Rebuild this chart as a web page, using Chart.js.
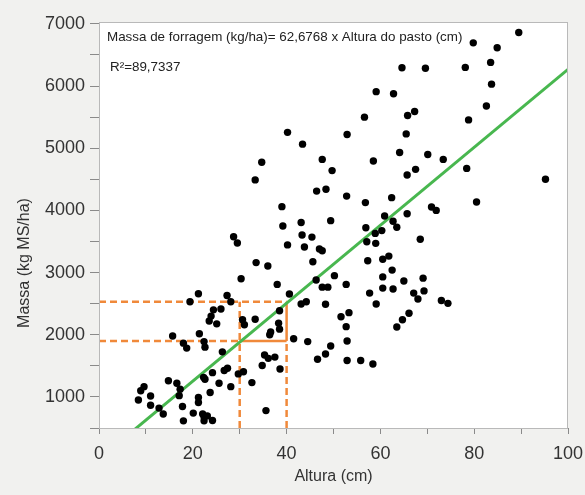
<!DOCTYPE html>
<html>
<head>
<meta charset="utf-8">
<script src="https://cdn.jsdelivr.net/npm/chart.js@4.4.1/dist/chart.umd.min.js"></script>
<style>
  html, body { margin: 0; padding: 0; background: #f1f1ef; }
  #wrap { width: 585px; height: 495px; position: relative; }
</style>
</head>
<body>
<div id="wrap"><canvas id="chart"></canvas></div>
<script>
// Altura do pasto (cm) x Massa de forragem (kg MS/ha)
const alturaCm = [
  30.3, 21.2, 19.4, 27.3, 28.1, 24.4, 26.0, 23.9, 23.5, 25.1, 30.6, 31.0,
  15.7, 21.4, 18.0, 18.7, 22.4, 22.6, 26.3, 27.4, 26.7, 24.2, 29.7, 30.8,
  32.6, 14.8, 16.6, 9.6, 8.9, 22.3, 22.6, 25.6, 28.1, 17.3, 17.1, 23.7,
  11.0, 8.4, 11.0, 12.8, 13.7, 21.2, 21.2, 17.8, 20.1, 22.1, 22.4, 23.1,
  24.2, 22.4, 18.0, 35.6, 33.3, 38.5, 38.3, 38.5, 36.6, 36.4, 41.5, 44.5,
  35.3, 36.1, 37.5, 34.8, 38.6, 33.5, 36.0, 38.0, 40.6, 43.1, 44.2, 48.3,
  45.6, 46.3, 47.6, 48.8, 50.2, 52.7, 51.6, 53.3, 52.7, 52.9, 49.4, 48.3,
  46.6, 52.9, 55.8, 58.4, 57.7, 59.1, 60.5, 62.7, 60.5, 65.0, 62.5, 60.5,
  61.8, 57.3, 66.1, 64.7, 63.5, 67.1, 68.0, 69.3, 69.1, 73.0, 74.4, 56.6,
  40.2, 43.4, 52.9, 65.8, 67.3, 65.5, 64.1, 58.5, 47.6, 49.7, 34.7, 33.3,
  65.7, 46.4, 48.4, 52.8, 56.8, 62.4, 39.0, 39.2, 43.1, 49.4, 60.9, 62.7,
  63.5, 65.7, 56.9, 58.9, 60.3, 43.3, 45.4, 40.2, 43.8, 47.0, 47.6, 57.1,
  59.0, 89.5, 79.8, 84.9, 83.5, 78.1, 69.6, 64.6, 83.7, 82.6, 78.8, 59.1,
  62.8, 70.1, 73.4, 67.5, 78.4, 95.2, 80.5, 70.9, 71.9, 68.5, 28.7, 29.5
];
const massaKg = [
  2900, 2660, 2530, 2630, 2530, 2400, 2415, 2300, 2220, 2175, 2240, 2160,
  1980, 2015, 1865, 1785, 1890, 1800, 1725, 1460, 1425, 1390, 1370, 1405,
  1230, 1260, 1220, 1165, 1100, 1315, 1285, 1220, 1165, 1125, 1020, 1070,
  1015, 950, 865, 820, 725, 990, 910, 845, 740, 725, 675, 695,
  620, 615, 615, 780, 2250, 2385, 2185, 2090, 2045, 2000, 1935, 1890,
  1675, 1620, 1640, 1505, 1450, 3160, 3105, 2810, 2655, 2495, 2530, 2490,
  3175, 2880, 2765, 2765, 2950, 2810, 2290, 2355, 2130, 1900, 1820, 1690,
  1605, 1585, 1585, 1530, 2670, 2495, 2750, 2735, 2930, 2865, 3040, 3215,
  3265, 3190, 2345, 2240, 2125, 2670, 2575, 2705, 2910, 2550, 2505, 5500,
  5255, 5065, 5220, 5525, 5590, 5230, 4930, 4795, 4820, 4640, 4775, 4490,
  4570, 4310, 4340, 4230, 4125, 4205, 4060, 3750, 3805, 3835, 3910, 3825,
  3730, 3945, 3720, 3630, 3675, 3605, 3570, 3445, 3410, 3380, 3350, 3495,
  3470, 6860, 6695, 6615, 6380, 6300, 6285, 6295, 6030, 5680, 5455, 5910,
  5875, 4900, 4820, 4660, 4675, 4500, 4135, 4055, 4000, 3535, 3575, 3475
];

// regression through origin: 62,6768 x Altura
const fitX = [0, 100];
const fitY = [0, 6268];

// orange reference lines (30 and 40 cm)
const refX = [30, 40];
const refY = [1900, 2530];

const xTicks = [0, 10, 20, 30, 40, 50, 60, 70, 80, 90, 100];
const yTicks = [500, 1000, 1500, 2000, 2500, 3000, 3500, 4000, 4500, 5000, 5500, 6000, 6500, 7000];
const X_MIN = 0, X_MAX = 100, Y_MIN = 500, Y_MAX = 7030;

const ORANGE = '#f0893a';
const GREEN = '#48b74f';

const points = alturaCm.map((x, i) => ({ x: x, y: massaKg[i] }));

function seg(x0, y0, x1, y1, dashed) {
  return {
    type: 'line',
    data: [{ x: x0, y: y0 }, { x: x1, y: y1 }],
    borderColor: ORANGE,
    borderWidth: 2.5,
    borderDash: dashed ? [7, 4] : [],
    pointRadius: 0,
    order: 3
  };
}

const framePlugin = {
  id: 'frame',
  beforeDraw(chart) {
    const { ctx, chartArea: a } = chart;
    ctx.save();
    ctx.fillStyle = '#ffffff';
    ctx.fillRect(a.left, a.top, a.right - a.left, a.bottom - a.top);
    ctx.restore();
  },
  afterDraw(chart) {
    const { ctx, chartArea: a } = chart;
    ctx.save();
    ctx.strokeStyle = '#b9b9b9';
    ctx.lineWidth = 1;
    ctx.strokeRect(a.left + 0.5, a.top + 0.5, a.right - a.left - 1, a.bottom - a.top);

    // equation text
    ctx.fillStyle = '#222';
    ctx.textBaseline = 'middle';
    ctx.textAlign = 'left';
    ctx.font = '13.4px "Liberation Sans", Arial, sans-serif';
    ctx.fillText('Massa de forragem (kg/ha)= 62,6768 x Altura do pasto (cm)', a.left + 8, 37);
    ctx.fillText('R²=89,7337', a.left + 11, 67);

    // y axis title
    ctx.translate(25, 263);
    ctx.rotate(-Math.PI / 2);
    ctx.textAlign = 'center';
    ctx.fillStyle = '#333';
    ctx.font = '16px "Liberation Sans", Arial, sans-serif';
    ctx.fillText('Massa (kg MS/ha)', 0, 0);
    ctx.restore();
  }
};

new Chart(document.getElementById('chart'), {
  type: 'scatter',
  data: {
    datasets: [
      {
        label: 'Observado',
        data: points,
        backgroundColor: '#000',
        borderColor: '#000',
        pointRadius: 3.7,
        pointBorderWidth: 0,
        order: 1
      },
      {
        type: 'line',
        label: 'Ajuste',
        data: fitX.map((x, i) => ({ x: x, y: fitY[i] })),
        borderColor: GREEN,
        borderWidth: 3,
        pointRadius: 0,
        order: 2
      },
      // dashed guides
      seg(X_MIN, refY[1], refX[1], refY[1], true),
      seg(X_MIN, refY[0], refX[0], refY[0], true),
      seg(refX[0], Y_MIN, refX[0], refY[1], true),
      seg(refX[1], Y_MIN, refX[1], refY[0], true),
      // solid box edges
      seg(refX[0], refY[0], refX[1], refY[0], false),
      seg(refX[1], refY[0], refX[1], refY[1], false)
    ]
  },
  options: {
    responsive: true,
    maintainAspectRatio: false,
    animation: false,
    layout: { padding: { left: 0, top: 22, right: 17, bottom: 0 } },
    plugins: {
      legend: { display: false },
      tooltip: { enabled: false }
    },
    scales: {
      x: {
        type: 'linear',
        min: X_MIN,
        max: X_MAX,
        afterFit(scale) {
          scale.height = 67;
          scale.paddingLeft = 0;
          scale.paddingRight = 0;
        },
        afterBuildTicks(scale) { scale.ticks = xTicks.map(v => ({ value: v })); },
        grid: { drawOnChartArea: false, tickLength: 6, color: '#8a8a8a' },
        border: { display: false },
        ticks: {
          autoSkip: false,
          maxRotation: 0,
          padding: 9,
          color: '#333',
          font: { family: '"Liberation Sans", Arial, sans-serif', size: 18 },
          callback: v => (v % 20 === 0 ? String(v) : '')
        },
        title: {
          display: true,
          text: 'Altura (cm)',
          color: '#333',
          font: { family: '"Liberation Sans", Arial, sans-serif', size: 16 },
          padding: { top: 0, bottom: 9 }
        }
      },
      y: {
        type: 'linear',
        min: Y_MIN,
        max: Y_MAX,
        afterFit(scale) {
          scale.width = 99;
          scale.paddingTop = 0;
          scale.paddingBottom = 0;
        },
        afterBuildTicks(scale) { scale.ticks = yTicks.map(v => ({ value: v })); },
        grid: { drawOnChartArea: false, tickLength: 9, color: '#8a8a8a' },
        border: { display: false },
        ticks: {
          autoSkip: false,
          padding: 5,
          color: '#333',
          font: { family: '"Liberation Sans", Arial, sans-serif', size: 18 },
          callback: v => (v % 1000 === 0 ? String(v) : '')
        }
      }
    }
  },
  plugins: [framePlugin]
});
</script>
</body>
</html>
